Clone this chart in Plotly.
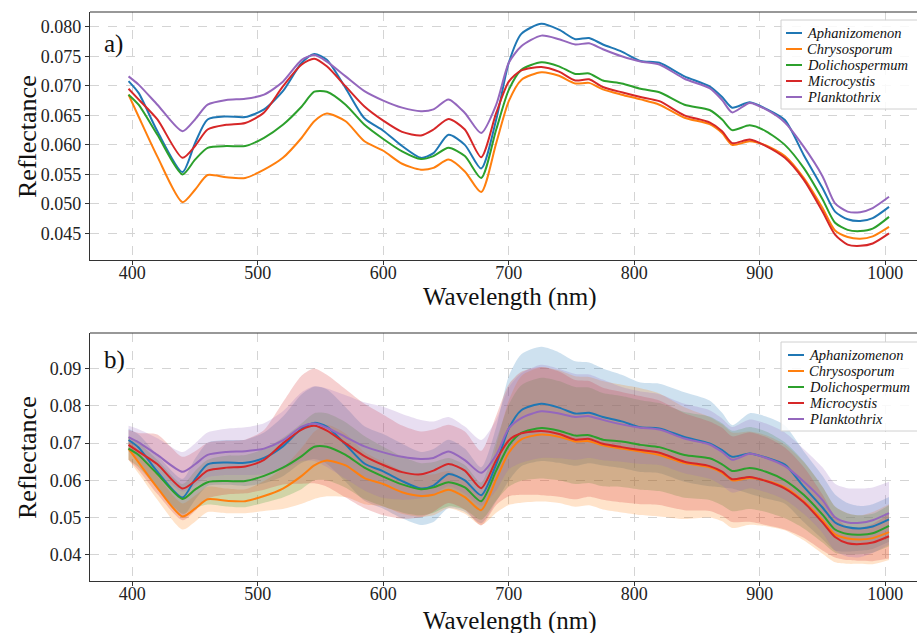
import plotly.graph_objects as go

# ---------------- data ----------------
wavelength = [397, 405, 420, 440, 450, 460, 475, 490, 505, 520, 535, 545, 555, 570, 585,
              600, 615, 630, 640, 652, 665, 678, 690, 700, 710, 726, 740, 753, 764, 775,
              790, 805, 820, 840, 860, 870, 878, 892, 905, 920, 935, 950, 960, 970, 980,
              990, 1003]

species = ["Aphanizomenon", "Chrysosporum", "Dolichospermum", "Microcystis", "Planktothrix"]

mean_aphanizomenon = [0.0708, 0.0688, 0.0623, 0.0554, 0.0603, 0.0643, 0.0648, 0.0647, 0.0660, 0.0691,
                      0.0739, 0.0754, 0.0744, 0.0696, 0.0645, 0.0624, 0.0598, 0.0578, 0.0586, 0.0617,
                      0.0600, 0.0560, 0.0643, 0.0739, 0.0788, 0.0805, 0.0795, 0.0779, 0.0781, 0.0770,
                      0.0758, 0.0742, 0.0739, 0.0716, 0.0699, 0.0681, 0.0663, 0.0672, 0.0661, 0.0642,
                      0.0583, 0.0527, 0.0487, 0.0474, 0.0471, 0.0476, 0.0495]
mean_chrysosporum = [0.0685, 0.0648, 0.0580, 0.0503, 0.0524, 0.0549, 0.0545, 0.0544, 0.0558, 0.0578,
                     0.0612, 0.0640, 0.0653, 0.0640, 0.0606, 0.0590, 0.0568, 0.0558, 0.0561, 0.0575,
                     0.0555, 0.0520, 0.0603, 0.0674, 0.0710, 0.0723, 0.0717, 0.0704, 0.0705, 0.0694,
                     0.0685, 0.0677, 0.0668, 0.0646, 0.0635, 0.0620, 0.0600, 0.0606, 0.0599, 0.0581,
                     0.0544, 0.0493, 0.0455, 0.0444, 0.0441, 0.0445, 0.0461]
mean_dolichospermum = [0.0685, 0.0668, 0.0617, 0.0550, 0.0575, 0.0595, 0.0598, 0.0598, 0.0612, 0.0634,
                       0.0665, 0.0690, 0.0690, 0.0668, 0.0634, 0.0610, 0.0589, 0.0576, 0.0581, 0.0595,
                       0.0581, 0.0544, 0.0626, 0.0693, 0.0727, 0.0740, 0.0733, 0.0720, 0.0721, 0.0709,
                       0.0704, 0.0695, 0.0689, 0.0668, 0.0659, 0.0643, 0.0625, 0.0633, 0.0623, 0.0600,
                       0.0561, 0.0508, 0.0468, 0.0456, 0.0454, 0.0458, 0.0478]
mean_microcystis = [0.0695, 0.0677, 0.0643, 0.0578, 0.0598, 0.0626, 0.0634, 0.0637, 0.0655, 0.0699,
                    0.0736, 0.0746, 0.0733, 0.0699, 0.0665, 0.0641, 0.0622, 0.0616, 0.0626, 0.0644,
                    0.0626, 0.0579, 0.0654, 0.0707, 0.0726, 0.0732, 0.0724, 0.0709, 0.0711, 0.0698,
                    0.0689, 0.0681, 0.0674, 0.0650, 0.0638, 0.0623, 0.0603, 0.0609, 0.0598, 0.0578,
                    0.0541, 0.0487, 0.0448, 0.0431, 0.0429, 0.0433, 0.0450]
mean_planktothrix = [0.0716, 0.0702, 0.0668, 0.0623, 0.0643, 0.0668, 0.0676, 0.0678, 0.0685, 0.0707,
                     0.0744, 0.0752, 0.0741, 0.0716, 0.0691, 0.0675, 0.0663, 0.0657, 0.0660, 0.0677,
                     0.0654, 0.0620, 0.0668, 0.0739, 0.0767, 0.0785, 0.0779, 0.0770, 0.0772, 0.0762,
                     0.0750, 0.0741, 0.0736, 0.0712, 0.0696, 0.0676, 0.0655, 0.0671, 0.0660, 0.0638,
                     0.0597, 0.0547, 0.0501, 0.0487, 0.0486, 0.0493, 0.0512]

std_aphanizomenon = [0.0030, 0.0035, 0.0045, 0.0050, 0.0055, 0.0058, 0.0060, 0.0062, 0.0068, 0.0080,
                     0.0092, 0.0097, 0.0100, 0.0100, 0.0100, 0.0100, 0.0100, 0.0098, 0.0098, 0.0092,
                     0.0085, 0.0075, 0.0100, 0.0140, 0.0150, 0.0153, 0.0148, 0.0140, 0.0135, 0.0130,
                     0.0125, 0.0120, 0.0120, 0.0120, 0.0115, 0.0100, 0.0085, 0.0108, 0.0110, 0.0105,
                     0.0095, 0.0085, 0.0075, 0.0065, 0.0060, 0.0060, 0.0060]
std_chrysosporum = [0.0030, 0.0030, 0.0032, 0.0035, 0.0035, 0.0034, 0.0033, 0.0032, 0.0040, 0.0055,
                    0.0075, 0.0090, 0.0096, 0.0085, 0.0070, 0.0060, 0.0058, 0.0056, 0.0055, 0.0050,
                    0.0045, 0.0040, 0.0090, 0.0140, 0.0170, 0.0180, 0.0178, 0.0175, 0.0172, 0.0172,
                    0.0171, 0.0170, 0.0165, 0.0150, 0.0135, 0.0130, 0.0128, 0.0125, 0.0122, 0.0115,
                    0.0105, 0.0090, 0.0075, 0.0068, 0.0065, 0.0070, 0.0075]
std_dolichospermum = [0.0030, 0.0033, 0.0038, 0.0040, 0.0050, 0.0060, 0.0068, 0.0070, 0.0072, 0.0080,
                      0.0088, 0.0090, 0.0090, 0.0088, 0.0085, 0.0080, 0.0075, 0.0070, 0.0068, 0.0065,
                      0.0060, 0.0050, 0.0080, 0.0110, 0.0128, 0.0135, 0.0133, 0.0130, 0.0128, 0.0125,
                      0.0122, 0.0120, 0.0118, 0.0115, 0.0112, 0.0110, 0.0108, 0.0110, 0.0108, 0.0102,
                      0.0090, 0.0075, 0.0062, 0.0055, 0.0052, 0.0052, 0.0055]
std_microcystis = [0.0040, 0.0050, 0.0080, 0.0085, 0.0080, 0.0075, 0.0072, 0.0072, 0.0080, 0.0110,
                   0.0145, 0.0154, 0.0150, 0.0145, 0.0140, 0.0135, 0.0125, 0.0115, 0.0110, 0.0105,
                   0.0105, 0.0100, 0.0120, 0.0150, 0.0165, 0.0172, 0.0168, 0.0160, 0.0155, 0.0150,
                   0.0148, 0.0145, 0.0140, 0.0130, 0.0120, 0.0118, 0.0115, 0.0120, 0.0118, 0.0110,
                   0.0095, 0.0075, 0.0055, 0.0045, 0.0045, 0.0050, 0.0060]
std_planktothrix = [0.0030, 0.0035, 0.0045, 0.0053, 0.0056, 0.0060, 0.0062, 0.0064, 0.0068, 0.0078,
                    0.0092, 0.0100, 0.0105, 0.0112, 0.0118, 0.0122, 0.0115, 0.0105, 0.0098, 0.0093,
                    0.0090, 0.0088, 0.0095, 0.0110, 0.0120, 0.0125, 0.0120, 0.0115, 0.0112, 0.0108,
                    0.0100, 0.0097, 0.0095, 0.0093, 0.0092, 0.0090, 0.0088, 0.0092, 0.0092, 0.0090,
                    0.0087, 0.0088, 0.0090, 0.0092, 0.0092, 0.0088, 0.0084]

x_ticks = [400, 500, 600, 700, 800, 900, 1000]
y_ticks_a = [0.045, 0.050, 0.055, 0.060, 0.065, 0.070, 0.075, 0.080]
y_ticks_b = [0.04, 0.05, 0.06, 0.07, 0.08, 0.09]

means = [mean_aphanizomenon, mean_chrysosporum, mean_dolichospermum, mean_microcystis, mean_planktothrix]
stds = [std_aphanizomenon, std_chrysosporum, std_dolichospermum, std_microcystis, std_planktothrix]

# ---------------- styling ----------------
colors = ["#1f77b4", "#ff7f0e", "#2ca02c", "#d62728", "#9467bd"]
band_colors = ["rgba(31,119,180,0.22)", "rgba(255,127,14,0.22)", "rgba(44,160,44,0.22)",
               "rgba(214,39,40,0.22)", "rgba(148,103,189,0.22)"]
FONT = "Liberation Serif"

W, H = 917, 633
ML, MR, MT, MB = 90, 0, 12, 52
PW = W - ML - MR
PH = H - MT - MB


def px(x):
    return (x - ML) / PW


def py(y):
    return (H - MB - y) / PH


fig = go.Figure()

# panel a: mean spectra
for name, m, c in zip(species, means, colors):
    fig.add_trace(go.Scatter(x=wavelength, y=m, mode="lines", name=name,
                             line=dict(color=c, width=2, shape="spline", smoothing=0.7),
                             xaxis="x", yaxis="y", showlegend=False))

# panel b: mean +/- std bands
for name, m, s, bc in zip(species, means, stds, band_colors):
    upper = [a + b for a, b in zip(m, s)]
    lower = [a - b for a, b in zip(m, s)]
    fig.add_trace(go.Scatter(x=wavelength, y=upper, mode="lines",
                             line=dict(width=0, shape="spline", smoothing=0.7),
                             xaxis="x2", yaxis="y2", showlegend=False, hoverinfo="skip"))
    fig.add_trace(go.Scatter(x=wavelength, y=lower, mode="lines", fill="tonexty",
                             fillcolor=bc, line=dict(width=0, shape="spline", smoothing=0.7),
                             xaxis="x2", yaxis="y2", showlegend=False, hoverinfo="skip"))
for name, m, c in zip(species, means, colors):
    fig.add_trace(go.Scatter(x=wavelength, y=m, mode="lines", name=name,
                             line=dict(color=c, width=2, shape="spline", smoothing=0.7),
                             xaxis="x2", yaxis="y2", showlegend=False))

top_dom = [py(260), 1.0]
bot_dom = [0.0, py(333)]
x_range = [366.3, 1025.3]

axis_common = dict(showline=True, linecolor="#333333", linewidth=1.2, ticks="outside",
                   ticklen=4, tickwidth=1, tickcolor="#333333", showgrid=True,
                   gridcolor="#d4d4d4", griddash="dash", gridwidth=1, zeroline=False,
                   automargin=False,
                   tickfont=dict(family=FONT, size=18, color="#222222"))

fig.update_layout(
    width=W, height=H,
    margin=dict(l=ML, r=MR, t=MT, b=MB, autoexpand=False),
    paper_bgcolor="white", plot_bgcolor="white",
    font=dict(family=FONT, color="#222222"),
    xaxis=dict(domain=[0, 1], anchor="y", range=x_range, tickvals=x_ticks,
               ticklabelstandoff=-8, **axis_common),
    yaxis=dict(domain=top_dom, anchor="x", range=[0.0405, 0.0825], tickvals=y_ticks_a,
               tickformat=".3f", **axis_common),
    xaxis2=dict(domain=[0, 1], anchor="y2", range=x_range, tickvals=x_ticks,
                ticklabelstandoff=-8, **axis_common),
    yaxis2=dict(domain=bot_dom, anchor="x2", range=[0.0330, 0.0995], tickvals=y_ticks_b,
                tickformat=".2f", **axis_common),
)

shapes = []
annotations = []
# top frame lines
for ya in ["y", "y2"]:
    xa = "x" if ya == "y" else "x2"
    shapes.append(dict(type="line", xref=f"{xa} domain", yref=f"{ya} domain", x0=0, x1=1, y0=1, y1=1,
                       line=dict(color="#333333", width=1.2), layer="above"))

# titles
for yc_title, xtitle_y in [(136, 297), (457, 621)]:
    annotations.append(dict(text="Reflectance", x=px(27), y=py(yc_title), xref="paper", yref="paper",
                            showarrow=False, textangle=-90, xanchor="center", yanchor="middle",
                            font=dict(family=FONT, size=26, color="#111111")))
    annotations.append(dict(text="Wavelength (nm)", x=px(510), y=py(xtitle_y), xref="paper", yref="paper",
                            showarrow=False, xanchor="center", yanchor="middle",
                            font=dict(family=FONT, size=25, color="#111111")))

# panel labels
for lab, yc in [("a)", 44), ("b)", 360)]:
    annotations.append(dict(text=lab, x=px(102), y=py(yc), xref="paper", yref="paper", showarrow=False,
                            xanchor="left", yanchor="middle",
                            font=dict(family=FONT, size=25, color="#111111")))

# custom legends (matplotlib style)
for box_top, line_x0 in [(20, 786), (342, 788)]:
    box_bottom = box_top + 89
    shapes.append(dict(type="rect", xref="paper", yref="paper", x0=px(781), x1=px(935),
                       y0=py(box_bottom), y1=py(box_top), fillcolor="rgba(255,255,255,0.85)",
                       line=dict(color="#d0d0d0", width=1), layer="above"))
    for i, (name, c) in enumerate(zip(species, colors)):
        yc = box_top + 13 + 16 * i
        shapes.append(dict(type="line", xref="paper", yref="paper", x0=px(line_x0), x1=px(line_x0 + 16),
                           y0=py(yc), y1=py(yc), line=dict(color=c, width=2), layer="above"))
        annotations.append(dict(text=f"<i>{name}</i>", x=px(line_x0 + 19), y=py(yc), xref="paper",
                                yref="paper", showarrow=False, xanchor="left", yanchor="middle",
                                font=dict(family=FONT, size=14.5, color="#111111")))

fig.update_layout(shapes=shapes, annotations=annotations)

fig.write_html("out.html", config={"displayModeBar": False},
               post_script="document.body.style.margin='0';document.body.style.overflow='hidden';")
